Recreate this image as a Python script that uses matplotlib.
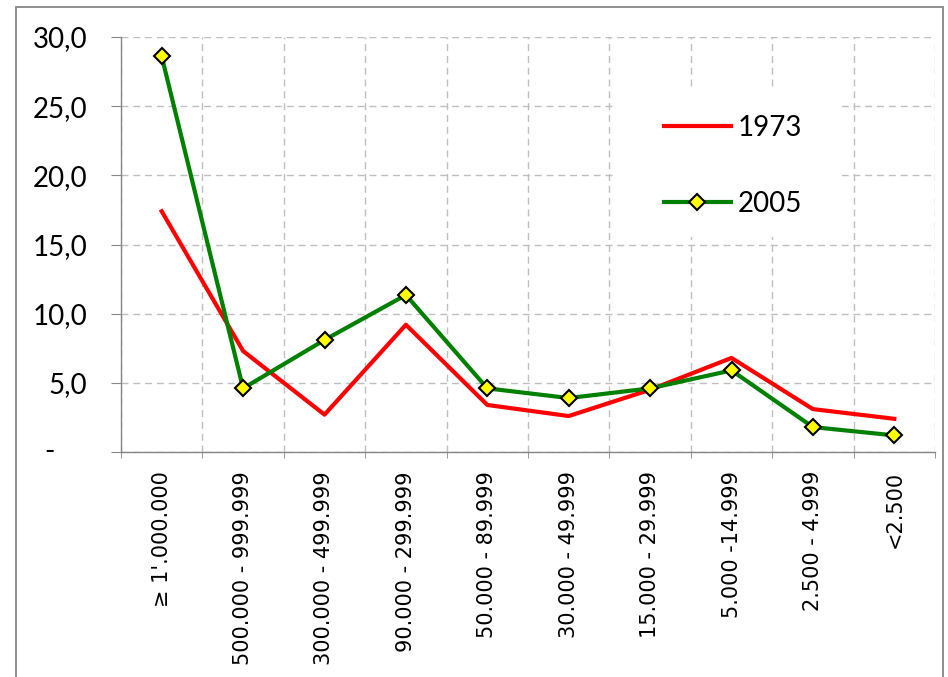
import numpy as np
import matplotlib
matplotlib.use("Agg")
import matplotlib.pyplot as plt
from matplotlib.patches import Rectangle
from matplotlib.ticker import FixedLocator, NullFormatter


categories = ["≥ 1'.000.000", "500.000 - 999.999", "300.000 - 499.999",
              "90.000 - 299.999", "50.000 - 89.999", "30.000 - 49.999",
              "15.000 - 29.999", "5.000 -14.999", "2.500 - 4.999", "<2.500"]
v1973 = [17.4, 7.3, 2.7, 9.2, 3.4, 2.6, 4.5, 6.8, 3.1, 2.4]
v2005 = [28.6, 4.6, 8.1, 11.35, 4.6, 3.9, 4.6, 5.9, 1.8, 1.2]
yticks = [0, 5, 10, 15, 20, 25, 30]
ylabels = ["", "5,0", "10,0", "15,0", "20,0", "25,0", "30,0"]

W, H = 948, 677
grey = "#868686"
px = 72 / 100  # points per pixel

fig = plt.figure(figsize=(W/100, H/100), dpi=100)
ax = fig.add_axes([121/W, 1-452/H, (935-121)/W, (452-37)/H])

# outer chart frame (bottom edge is cut off in the original)
fig.patches.append(Rectangle((16/W, -0.1), (943-16)/W, 1.1-7/H,
                             transform=fig.transFigure, fill=False,
                             edgecolor=grey, linewidth=1.3))

x = np.arange(len(categories))
ax.plot(x, v1973, color="#FF0000", lw=3, label="1973", zorder=3)
ax.plot(x, v2005, color="#008000", lw=3, marker="D", ms=8.5,
        mfc="#FFFF00", mec="black", mew=1.5, label="2005", zorder=4)

ax.set_xlim(-0.5, len(categories)-0.5)
ax.set_ylim(0, 30)

ax.set_xticks(x)
ax.set_xticklabels(categories, rotation=90, family="DejaVu Sans", fontsize=15)
ax.xaxis.set_minor_locator(FixedLocator(np.arange(-0.5, len(categories), 1)))
ax.xaxis.set_minor_formatter(NullFormatter())
ax.tick_params(axis="x", which="major", length=0, pad=19*px)
ax.tick_params(axis="x", which="minor", length=6*px, color=grey, direction="out")

ax.set_yticks(yticks)
ax.set_yticklabels(ylabels, family="Lato", fontsize=20)
ax.tick_params(axis="y", length=10*px, color=grey, pad=24*px)
ax.annotate("-", xy=(0, 0), xycoords=("axes fraction", "data"),
            xytext=(-66, 0), textcoords="offset pixels", ha="right",
            va="center", family="Lato", fontsize=20, annotation_clip=False)

ax.grid(True, axis="y", which="major", color="#BFBFBF", ls=(0, (5, 3.5)), lw=1)
ax.grid(True, axis="x", which="minor", color="#BFBFBF", ls=(0, (5, 3.5)), lw=1)
ax.grid(False, axis="x", which="major")
ax.set_axisbelow(True)

for s in ["top", "right"]:
    ax.spines[s].set_visible(False)
for s in ["left", "bottom"]:
    ax.spines[s].set_color(grey)
    ax.spines[s].set_linewidth(1)

# white legend box that hides the grid behind it
ax.add_patch(Rectangle((613/W, 1-237/H), (842-613)/W, (237-88)/H,
                       transform=fig.transFigure, facecolor="white",
                       edgecolor="none", zorder=1))
leg = ax.legend(loc="upper left", bbox_to_anchor=(664/W, 1-115/H),
                bbox_transform=fig.transFigure, frameon=False,
                prop={"family": "Lato", "size": 20}, handlelength=2.4,
                handletextpad=0.25, labelspacing=1.79, borderpad=0,
                borderaxespad=0)

fig.savefig("out.png", dpi=100)
